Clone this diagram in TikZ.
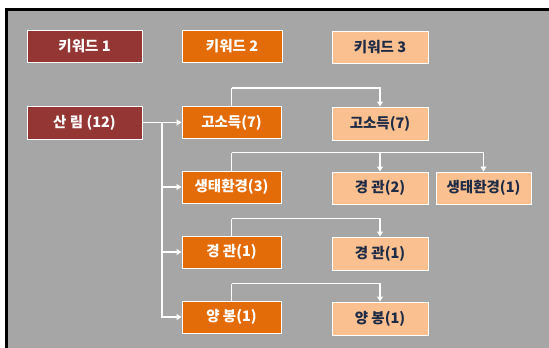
\documentclass[tikz,border=0pt]{standalone}
\usepackage{fontspec}
\usetikzlibrary{arrows.meta}
\newfontfamily\kr{Noto Sans CJK KR}
\definecolor{bggray}{HTML}{A6A6A6}
\definecolor{kred}{HTML}{943634}
\definecolor{korange}{HTML}{E36C09}
\definecolor{klight}{HTML}{FAC090}
\definecolor{ktext}{HTML}{1F2B45}
\tikzset{
  kbox/.style={draw=white, line width=1pt, minimum height=32pt, inner sep=0pt,
    font=\kr\bfseries\fontsize{14.5}{16}\selectfont},
  redbox/.style={kbox, fill=kred, text=white, minimum width=115pt},
  orbox/.style={kbox, fill=korange, text=white, minimum width=99pt},
  ltbox/.style={kbox, fill=klight, text=ktext, minimum width=96pt},
  conn/.style={draw=white, line width=1.3pt, -{Triangle[width=6pt,length=5pt]}},
  plainline/.style={draw=white, line width=1.3pt}
}
\begin{document}
\begin{tikzpicture}[x=1pt,y=-1pt]
\useasboundingbox (0,0) rectangle (549,348);
\fill[white] (-5,-5) rectangle (555,9);
\fill[white] (-5,-5) rectangle (6,355);
\fill[bggray] (6,9) rectangle (555,355);
\draw[black, line width=2.5pt] (6.25,355) -- (6.25,9.25) -- (555,9.25);

\node[redbox] (k1) at (84.5,46.5) {키워드 1};
\node[orbox, minimum width=100pt] (k2) at (232,46) {키워드 2};
\node[ltbox] (k3) at (380,47) {키워드 3};

\node[redbox, minimum height=33pt] (sr) at (84.5,122.5) {산 림 (12)};
\node[orbox] (o1) at (231.5,122.5) {고소득(7)};
\node[orbox] (o2) at (231.5,187) {생태환경(3)};
\node[orbox] (o3) at (231.5,252) {경 관(1)};
\node[orbox] (o4) at (231.5,317) {양 봉(1)};

\node[ltbox, minimum height=33pt] (l1) at (380,123.5) {고소득(7)};
\node[ltbox] (l2) at (380,188) {경 관(2)};
\node[ltbox, minimum width=95pt] (l5) at (483.5,188) {생태환경(1)};
\node[ltbox, minimum height=33pt] (l3) at (380,253.5) {경 관(1)};
\node[ltbox, minimum height=33pt] (l4) at (380,318.5) {양 봉(1)};

\draw[conn] (sr.east) -- (o1.west);
\coordinate (t) at (162,122.5);
\draw[conn] (t) |- (o2.west);
\draw[conn] (t) |- (o3.west);
\draw[conn] (t) |- (o4.west);

\coordinate (c1) at ([yshift=18pt]o1.north);
\coordinate (c2) at ([yshift=18pt]o2.north);
\coordinate (c3) at ([yshift=17pt]o3.north);
\coordinate (c4) at ([yshift=17pt]o4.north);
\draw[plainline] (o1.north) -- (c1);
\draw[conn] (c1) -| (l1.north);
\draw[plainline] (o2.north) -- (c2);
\draw[conn] (c2) -| (l2.north);
\draw[conn] (c2) -| (l5.north);
\draw[plainline] (o3.north) -- (c3);
\draw[conn] (c3) -| (l3.north);
\draw[plainline] (o4.north) -- (c4);
\draw[conn] (c4) -| (l4.north);
\end{tikzpicture}
\end{document}
